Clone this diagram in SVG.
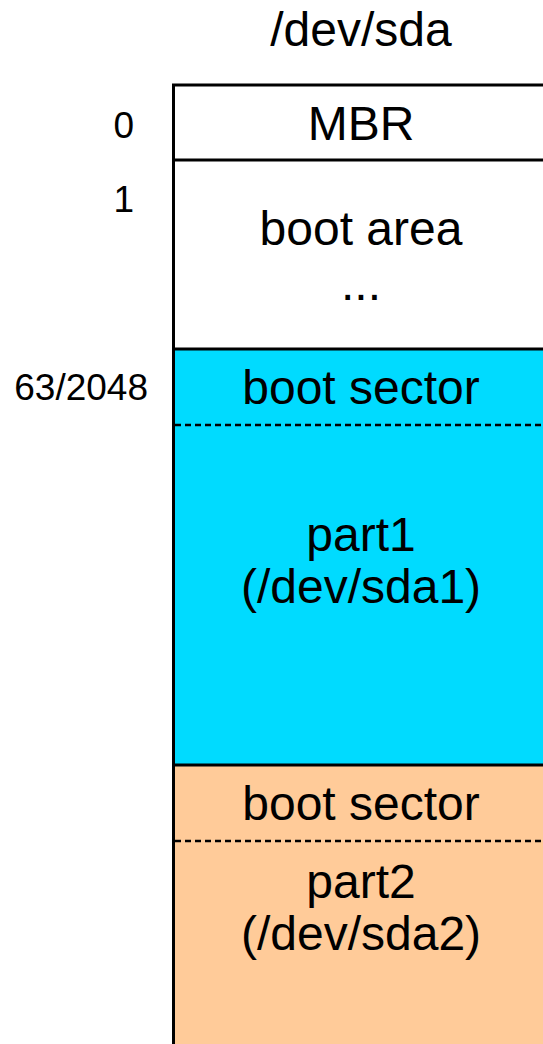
<svg xmlns="http://www.w3.org/2000/svg" width="543" height="1044" viewBox="0 0 543 1044">
<style>
text{font-family:"Liberation Sans",Arial,sans-serif;fill:#000}
.big{font-size:48px;text-anchor:middle}
.num{font-size:37px;text-anchor:end}
.solid{stroke:#000;stroke-width:3;fill:none}
.dash{stroke:#000;stroke-width:2.5;stroke-dasharray:6,4;fill:none}
</style>
<rect width="543" height="1044" fill="#fff"/>
<text class="big" x="361" y="46">/dev/sda</text>
<g id="mbr">
<rect x="173" y="85" width="380" height="75" fill="#fff"/>
<text class="big" x="361" y="140">MBR</text>
</g>
<g id="bootarea">
<rect x="173" y="160" width="380" height="189" fill="#fff"/>
<text class="big" x="361" y="245">boot area</text>
<text class="big" x="361" y="300">...</text>
</g>
<g id="part1">
<rect x="173" y="349" width="380" height="416" fill="#00dbff"/>
<text class="big" x="361" y="404">boot sector</text>
<text class="big" x="361" y="551">part1</text>
<text class="big" x="361" y="603">(/dev/sda1)</text>
</g>
<g id="part2">
<rect x="173" y="765" width="380" height="290" fill="#ffcb99"/>
<text class="big" x="361" y="820">boot sector</text>
<text class="big" x="361" y="898">part2</text>
<text class="big" x="361" y="950">(/dev/sda2)</text>
</g>
<g id="lines">
<path class="solid" d="M173.5,1050 V85 H560 M173,160 H560 M173,349 H560 M173,765 H560"/>
<path class="dash" d="M175,425 H560 M175,841 H560"/>
</g>
<g id="offsets">
<text class="num" x="134" y="138">0</text>
<text class="num" x="134" y="212">1</text>
<text class="num" x="148" y="400">63/2048</text>
</g>
</svg>
